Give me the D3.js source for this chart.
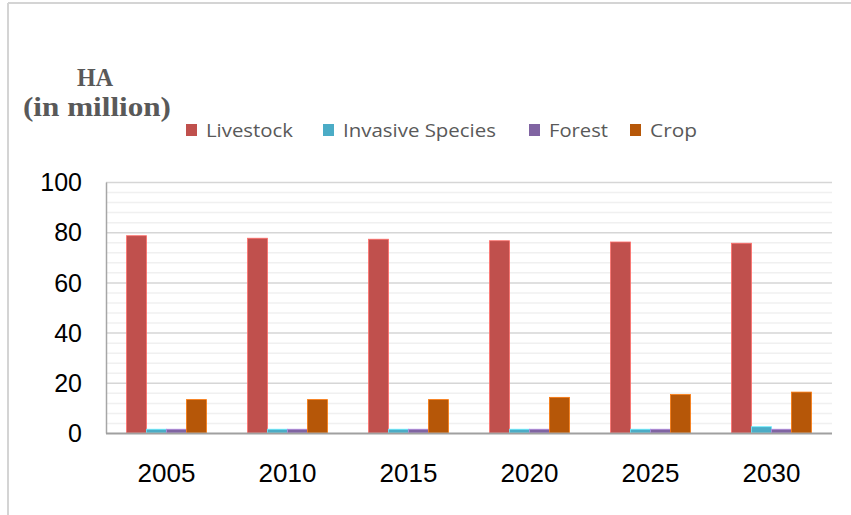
<!DOCTYPE html>
<html>
<head>
<meta charset="utf-8">
<script src="https://cdn.jsdelivr.net/npm/d3@7"></script>
<style>
  html, body { margin: 0; padding: 0; background: #fff; }
  svg { display: block; }
</style>
</head>
<body>
<svg id="chart" width="851" height="515"></svg>
<script>
// Projected land area by driver, HA in million
const years = ["2005", "2010", "2015", "2020", "2025", "2030"];
const seriesNames = ["Livestock", "Invasive Species", "Forest", "Crop"];
const livestock = [78.6, 77.6, 77.2, 76.6, 76.1, 75.6];
const invasiveSpecies = [1.5, 1.5, 1.5, 1.5, 1.5, 2.5];
const forest = [1.5, 1.5, 1.5, 1.5, 1.5, 1.5];
const crop = [13.3, 13.3, 13.3, 14.2, 15.3, 16.3];
const yTicks = [0, 20, 40, 60, 80, 100];
const colors = ["#C0504D", "#4BACC6", "#8064A2", "#B65708"];
const legendWidths = [87, 153, 59, 47];

const seriesValues = [livestock, invasiveSpecies, forest, crop];

const svg = d3.select("#chart");

// Outer frame (top and left edges)
svg.append("line").attr("x1", 8).attr("x2", 851).attr("y1", 3).attr("y2", 3)
  .attr("stroke", "#d4d4d4").attr("stroke-width", 2);
svg.append("line").attr("x1", 8).attr("x2", 8).attr("y1", 3).attr("y2", 515)
  .attr("stroke", "#d4d4d4").attr("stroke-width", 2);

const plot = { left: 106, right: 832, top: 182, bottom: 433 };

const x0 = d3.scaleBand().domain(years).range([plot.left, plot.right]).paddingInner(0.34).paddingOuter(0.17);
const x1 = d3.scaleBand().domain(seriesNames).range([0, x0.bandwidth()]);
const y = d3.scaleLinear().domain([0, 100]).range([plot.bottom, plot.top]);

// Minor gridlines every 4 units
const minor = d3.range(4, 100, 4).filter(v => v % 20 !== 0);
svg.append("g").selectAll("line").data(minor).join("line")
  .attr("x1", plot.left).attr("x2", plot.right)
  .attr("y1", d => y(d) + 0.5).attr("y2", d => y(d) + 0.5)
  .attr("stroke", "#f0f0f0").attr("stroke-width", 1.5);

// Major gridlines
svg.append("g").selectAll("line").data(yTicks.filter(v => v > 0)).join("line")
  .attr("x1", plot.left).attr("x2", plot.right)
  .attr("y1", d => y(d) + 0.5).attr("y2", d => y(d) + 0.5)
  .attr("stroke", "#d6d6d6").attr("stroke-width", 1.5);

// Y axis
const yAxis = svg.append("g").attr("transform", `translate(${plot.left},0)`)
  .call(d3.axisLeft(y).tickValues(yTicks).tickSize(0).tickPadding(24));
yAxis.select(".domain").attr("stroke", "#a6a6a6").attr("stroke-width", 1.5);
yAxis.selectAll("text").attr("font-family", "Liberation Sans, Arial, sans-serif")
  .attr("font-size", 25).attr("fill", "#000").attr("dy", "0.35em");

// Bars
const groups = svg.append("g").selectAll("g").data(years).join("g")
  .attr("transform", d => `translate(${x0(d)},0)`);
groups.selectAll("rect")
  .data((yr, i) => seriesNames.map((s, k) => ({ s, k, v: seriesValues[k][i] })))
  .join("rect")
  .attr("x", d => x1(d.s))
  .attr("width", x1.bandwidth())
  .attr("y", d => y(d.v))
  .attr("height", d => y(0) - y(d.v))
  .attr("fill", d => colors[d.k])
  .attr("stroke", d => d3.color(colors[d.k]).brighter(0.9))
  .attr("stroke-width", 0.8);

// X axis
const xAxis = svg.append("g").attr("transform", `translate(0,${plot.bottom})`)
  .call(d3.axisBottom(x0).tickSize(0).tickPadding(31));
xAxis.select(".domain").attr("stroke", "#a0a0a0").attr("stroke-width", 2)
  .attr("d", `M${plot.left},0.5H${plot.right}`);
xAxis.selectAll("text").attr("font-family", "Liberation Sans, Arial, sans-serif")
  .attr("font-size", 26).attr("fill", "#000");

// Axis title
const title = svg.append("g").attr("font-family", "Liberation Serif, DejaVu Serif, serif")
  .attr("font-weight", "bold").attr("fill", "#595959");
title.append("text").attr("x", 95).attr("y", 86).attr("text-anchor", "middle")
  .attr("font-size", 26).attr("textLength", 36).attr("lengthAdjust", "spacingAndGlyphs").text("HA");
title.append("text").attr("x", 23).attr("y", 116).attr("font-size", 27)
  .attr("textLength", 148).attr("lengthAdjust", "spacingAndGlyphs").text("(in million)");

// Legend
const legendX = [186, 323, 529, 630];
const legend = svg.append("g").selectAll("g").data(seriesNames).join("g")
  .attr("transform", (d, i) => `translate(${legendX[i]},124)`);
legend.append("rect").attr("width", 11).attr("height", 12).attr("fill", (d, i) => colors[i]);
legend.append("text").attr("x", 20).attr("y", 13)
  .attr("font-family", "Liberation Sans Narrow, Open Sans, sans-serif")
  .attr("font-size", 19).attr("fill", "#595959")
  .attr("textLength", (d, i) => legendWidths[i]).attr("lengthAdjust", "spacingAndGlyphs")
  .text(d => d);
</script>
</body>
</html>
